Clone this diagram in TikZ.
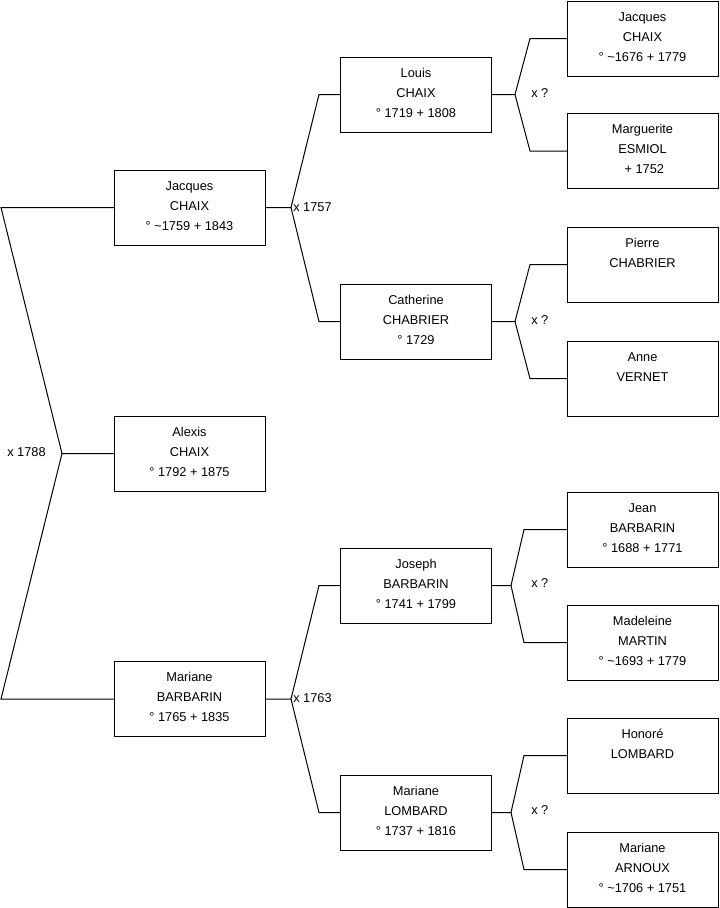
\documentclass[tikz,border=0pt]{standalone}
\usepackage{fontspec}
\setmainfont{Liberation Sans}
\begin{document}
\begin{tikzpicture}[x=0.75pt,y=-0.75pt,
  pbox/.style={draw=black,line width=0.75pt,minimum width=113.25pt,minimum height=56.25pt,inner sep=0pt,outer sep=0pt,
    label={[ptext]north:{#1}}},
  ptext/.style={anchor=north,inner sep=0pt,yshift=-4.5pt,align=center,font=\fontsize{9.6}{15}\selectfont},
  lnk/.style={draw=black,line width=0.75pt,line join=miter},
  mlab/.style={anchor=west,inner sep=0pt,font=\fontsize{9.6}{15}\selectfont}]
\useasboundingbox (0,0) rectangle (719,908);
% generation 1
\node[pbox={\strut Jacques\\\strut CHAIX\\\strut ° \textasciitilde1759 + 1843}] (g1a) at (189.5,207.5) {};
\node[pbox={\strut Alexis\\\strut CHAIX\\\strut ° 1792 + 1875}] (g0) at (189.5,453.5) {};
\node[pbox={\strut Mariane\\\strut BARBARIN\\\strut ° 1765 + 1835}] (g1b) at (189.5,699) {};
% generation 2
\node[pbox={\strut Louis\\\strut CHAIX\\\strut ° 1719 + 1808}] (g2a) at (416,94.5) {};
\node[pbox={\strut Catherine\\\strut CHABRIER\\\strut ° 1729}] (g2b) at (416,321.5) {};
\node[pbox={\strut Joseph\\\strut BARBARIN\\\strut ° 1741 + 1799}] (g2c) at (416,585.5) {};
\node[pbox={\strut Mariane\\\strut LOMBARD\\\strut ° 1737 + 1816}] (g2d) at (416,812.5) {};
% generation 3
\node[pbox={\strut Jacques\\\strut CHAIX\\\strut ° \textasciitilde1676 + 1779}] (g3a) at (642.5,38.5) {};
\node[pbox={\strut Marguerite\\\strut ESMIOL\\\strut \ + 1752}] (g3b) at (642.5,151) {};
\node[pbox={\strut Pierre\\\strut CHABRIER}] (g3c) at (642.5,264.5) {};
\node[pbox={\strut Anne\\\strut VERNET}] (g3d) at (642.5,378.5) {};
\node[pbox={\strut Jean\\\strut BARBARIN\\\strut ° 1688 + 1771}] (g3e) at (642.5,529.5) {};
\node[pbox={\strut Madeleine\\\strut MARTIN\\\strut ° \textasciitilde1693 + 1779}] (g3f) at (642.5,642.5) {};
\node[pbox={\strut Honoré\\\strut LOMBARD}] (g3g) at (642.5,755.5) {};
\node[pbox={\strut Mariane\\\strut ARNOUX\\\strut ° \textasciitilde1706 + 1751}] (g3h) at (642.5,869.5) {};
% junction coordinates
\coordinate (v0) at (62,453.5);
\coordinate (c0a) at (1,207.5);
\coordinate (c0b) at (1,699);
\coordinate (v1a) at (291,207.5);
\coordinate (c1a) at (319,94.5);
\coordinate (c1b) at (319,321.5);
\coordinate (v1b) at (291,699);
\coordinate (c1c) at (319,585.5);
\coordinate (c1d) at (319,812.5);
\coordinate (v2a) at (515,94.5);
\coordinate (c2a) at (530,38.5);
\coordinate (c2b) at (530,151);
\coordinate (v2b) at (515,321.5);
\coordinate (c2c) at (530,264.5);
\coordinate (c2d) at (530,378.5);
\coordinate (v2c) at (511,585.5);
\coordinate (c2e) at (524,529.5);
\coordinate (c2f) at (524,642.5);
\coordinate (v2d) at (511,812.5);
\coordinate (c2g) at (524,755.5);
\coordinate (c2h) at (524,869.5);
% connectors
\draw[lnk] (g0.west) -- (v0) -- (c0a) -- (g1a.west);
\draw[lnk] (v0) -- (c0b) -- (g1b.west);
\draw[lnk] (g1a.east) -- (v1a) -- (c1a) -- (g2a.west);
\draw[lnk] (v1a) -- (c1b) -- (g2b.west);
\draw[lnk] (g1b.east) -- (v1b) -- (c1c) -- (g2c.west);
\draw[lnk] (v1b) -- (c1d) -- (g2d.west);
\draw[lnk] (g2a.east) -- (v2a) -- (c2a) -- (g3a.west);
\draw[lnk] (v2a) -- (c2b) -- (g3b.west);
\draw[lnk] (g2b.east) -- (v2b) -- (c2c) -- (g3c.west);
\draw[lnk] (v2b) -- (c2d) -- (g3d.west);
\draw[lnk] (g2c.east) -- (v2c) -- (c2e) -- (g3e.west);
\draw[lnk] (v2c) -- (c2f) -- (g3f.west);
\draw[lnk] (g2d.east) -- (v2d) -- (c2g) -- (g3g.west);
\draw[lnk] (v2d) -- (c2h) -- (g3h.west);
% marriage labels
\node[mlab] (m0) at (7,452) {x 1788};
\node[mlab] (m1a) at (293,207) {x 1757};
\node[mlab] (m1b) at (293,698) {x 1763};
\node[mlab] (m2a) at (531,93) {x ?};
\node[mlab] (m2b) at (531,320) {x ?};
\node[mlab] (m2c) at (531,583) {x ?};
\node[mlab] (m2d) at (531,810) {x ?};
\end{tikzpicture}
\end{document}
